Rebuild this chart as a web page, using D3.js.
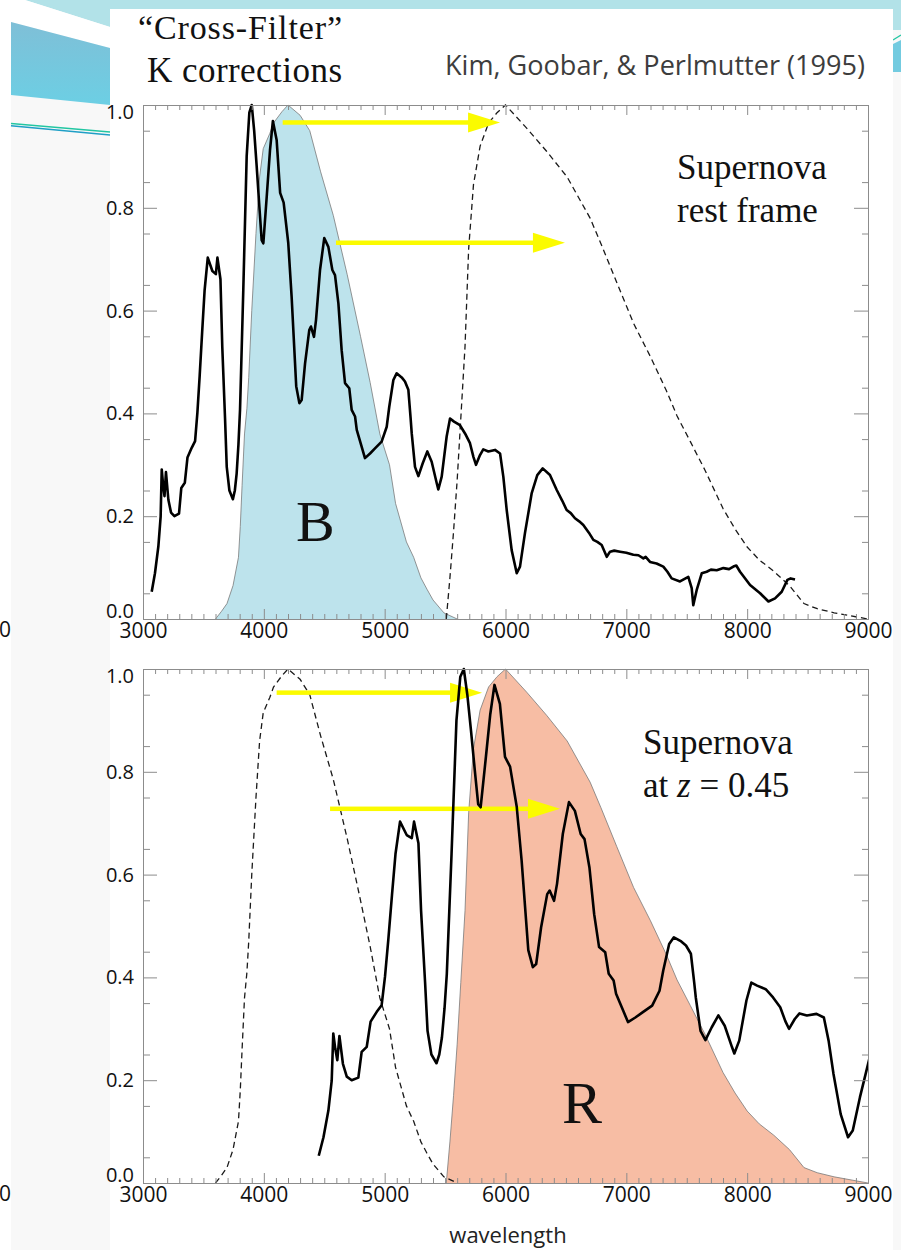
<!DOCTYPE html>
<html>
<head>
<meta charset="utf-8">
<script src="https://cdn.jsdelivr.net/npm/d3@7"></script>
<style>
  html, body { margin: 0; padding: 0; background: #fff; }
  svg { display: block; }
</style>
</head>
<body>
<svg id="chart" width="901" height="1250"></svg>
<script>
// Type Ia supernova spectrum near maximum light, rest frame: wavelength (Å) and normalised flux
const spectrumWave = [3072, 3099, 3127, 3146, 3155, 3166, 3178, 3190, 3210, 3232, 3260, 3298, 3317, 3346, 3368, 3403, 3431, 3450, 3469, 3490, 3510, 3536, 3574, 3603, 3616, 3641, 3656, 3679, 3693, 3715, 3744, 3760, 3775, 3790, 3803, 3830, 3858, 3880, 3900, 3920, 3941, 3963, 3982, 3996, 4024, 4051, 4075, 4106, 4135, 4164, 4202, 4230, 4268, 4294, 4313, 4341, 4376, 4390, 4415, 4432, 4465, 4500, 4534, 4567, 4589, 4617, 4644, 4672, 4707, 4727, 4755, 4769, 4810, 4837, 4879, 4920, 4975, 5017, 5038, 5072, 5099, 5141, 5168, 5196, 5215, 5224, 5251, 5279, 5315, 5353, 5389, 5431, 5444, 5472, 5513, 5541, 5574, 5623, 5665, 5706, 5735, 5756, 5789, 5816, 5858, 5913, 5955, 5982, 6010, 6051, 6093, 6120, 6161, 6217, 6263, 6308, 6368, 6424, 6470, 6506, 6540, 6575, 6610, 6644, 6690, 6727, 6760, 6796, 6838, 6865, 6900, 6948, 7000, 7058, 7100, 7141, 7160, 7196, 7250, 7306, 7340, 7375, 7444, 7513, 7541, 7554, 7582, 7624, 7665, 7700, 7748, 7803, 7850, 7886, 7910, 7941, 8024, 8107, 8176, 8231, 8286, 8333, 8360, 8396];
const spectrumFlux = [0.053, 0.089, 0.141, 0.199, 0.291, 0.262, 0.239, 0.286, 0.232, 0.207, 0.200, 0.205, 0.255, 0.265, 0.314, 0.333, 0.346, 0.401, 0.473, 0.560, 0.640, 0.703, 0.677, 0.671, 0.703, 0.661, 0.530, 0.390, 0.296, 0.250, 0.233, 0.250, 0.283, 0.340, 0.407, 0.640, 0.900, 0.985, 1.000, 0.950, 0.880, 0.802, 0.737, 0.731, 0.822, 0.912, 0.969, 0.932, 0.829, 0.810, 0.732, 0.627, 0.453, 0.420, 0.426, 0.497, 0.562, 0.569, 0.549, 0.582, 0.679, 0.741, 0.724, 0.679, 0.669, 0.614, 0.523, 0.459, 0.449, 0.407, 0.394, 0.368, 0.335, 0.313, 0.322, 0.332, 0.345, 0.374, 0.413, 0.465, 0.478, 0.470, 0.462, 0.446, 0.390, 0.361, 0.296, 0.278, 0.303, 0.326, 0.306, 0.264, 0.252, 0.277, 0.355, 0.390, 0.384, 0.377, 0.361, 0.342, 0.315, 0.300, 0.319, 0.330, 0.326, 0.329, 0.322, 0.277, 0.212, 0.134, 0.089, 0.102, 0.167, 0.245, 0.280, 0.293, 0.280, 0.251, 0.230, 0.212, 0.206, 0.196, 0.190, 0.183, 0.168, 0.154, 0.150, 0.144, 0.121, 0.131, 0.133, 0.131, 0.129, 0.125, 0.124, 0.118, 0.121, 0.111, 0.108, 0.102, 0.092, 0.079, 0.073, 0.082, 0.060, 0.027, 0.056, 0.089, 0.092, 0.096, 0.095, 0.099, 0.097, 0.102, 0.104, 0.092, 0.066, 0.050, 0.034, 0.040, 0.053, 0.076, 0.079, 0.077];

// B filter transmission (normalised)
const bFilterWave = [3600, 3650, 3695, 3745, 3790, 3805, 3820, 3840, 3860, 3875, 3900, 3935, 3965, 3995, 4050, 4080, 4150, 4200, 4300, 4380, 4470, 4575, 4690, 4800, 4880, 4960, 5040, 5090, 5180, 5240, 5300, 5350, 5400, 5490, 5600];
const bFilterResp = [0.000, 0.015, 0.030, 0.065, 0.120, 0.180, 0.260, 0.360, 0.410, 0.470, 0.600, 0.750, 0.860, 0.915, 0.945, 0.965, 0.987, 1.000, 0.980, 0.950, 0.870, 0.785, 0.670, 0.550, 0.460, 0.360, 0.300, 0.225, 0.150, 0.120, 0.080, 0.058, 0.037, 0.012, 0.000];

// R filter transmission (normalised)
const rFilterWave = [5510, 5540, 5570, 5600, 5630, 5665, 5695, 5735, 5790, 5860, 5930, 6000, 6175, 6340, 6510, 6700, 6790, 6920, 7060, 7200, 7330, 7420, 7530, 7650, 7800, 7900, 8000, 8100, 8220, 8350, 8470, 8580, 8720, 9000];
const rFilterResp = [0.000, 0.080, 0.170, 0.270, 0.390, 0.530, 0.720, 0.845, 0.920, 0.965, 0.985, 1.000, 0.955, 0.910, 0.860, 0.780, 0.730, 0.655, 0.575, 0.510, 0.445, 0.395, 0.345, 0.290, 0.215, 0.175, 0.140, 0.115, 0.093, 0.065, 0.030, 0.020, 0.012, 0.000];

const redshift = 0.45;

// Shift arrows: start / end wavelength and height
const restArrowFrom = [4156, 4597];
const restArrowTo = [5955, 6492];
const restArrowAt = [0.966, 0.732];
const shiftedArrowFrom = [4106, 4548];
const shiftedArrowTo = [5806, 6451];
const shiftedArrowAt = [0.954, 0.728];

const xTickValues = [3000, 4000, 5000, 6000, 7000, 8000, 9000];
const xTickLabels = ["3000", "4000", "5000", "6000", "7000", "8000", "9000"];
const yTickValues = [0, 0.2, 0.4, 0.6, 0.8, 1.0];
const yTickLabels = ["0.0", "0.2", "0.4", "0.6", "0.8", "1.0"];

const svg = d3.select("#chart");
const axisColor = "#8c8c8c";
const sansFont = "'Open Sans', 'Noto Sans', sans-serif";
const serifFont = "'Liberation Serif', 'DejaVu Serif', serif";

// ---------- slide background ----------
const deco = svg.append("g");
deco.append("rect").attr("x", 11).attr("y", 0).attr("width", 99).attr("height", 1250).attr("fill", "#f8f8f8");
deco.append("rect").attr("x", 893).attr("y", 0).attr("width", 8).attr("height", 1250).attr("fill", "#f8f8f8");
deco.append("path").attr("d", "M25,0 L901,0 L901,30 L893,30 L893,9 L110,9 L110,27 Z").attr("fill", "#b2e2e8");
deco.append("path").attr("d", "M11,0 L25,0 L110,27 L110,48 L11,22 Z").attr("fill", "#ffffff");
const grad = svg.append("defs").append("linearGradient").attr("id", "band").attr("x1", 0).attr("y1", 0).attr("x2", 0).attr("y2", 1);
grad.append("stop").attr("offset", "0%").attr("stop-color", "#7fbfd7");
grad.append("stop").attr("offset", "100%").attr("stop-color", "#6ccfe4");
deco.append("path").attr("d", "M11,22 L110,48 L110,105 L11,95 Z").attr("fill", "url(#band)");
deco.append("line").attr("x1", 11).attr("y1", 123.5).attr("x2", 110).attr("y2", 132).attr("stroke", "#22c6a2").attr("stroke-width", 1.6);
deco.append("line").attr("x1", 11).attr("y1", 125.8).attr("x2", 110).attr("y2", 135).attr("stroke", "#1f9fc6").attr("stroke-width", 1.6);
deco.append("path").attr("d", "M893,44 L901,40 L901,72 L893,72 Z").attr("fill", "#73cbe0");
deco.append("line").attr("x1", 893).attr("y1", 40).attr("x2", 901).attr("y2", 35).attr("stroke", "#22c6a2").attr("stroke-width", 1.4);
deco.append("rect").attr("x", 110).attr("y", 9).attr("width", 783).attr("height", 1241).attr("fill", "#ffffff");

// ---------- titles ----------
svg.append("text").attr("x", 138).attr("y", 39).attr("font-family", serifFont).attr("font-size", 34)
  .attr("textLength", 204).attr("fill", "#111").text("\u201CCross-Filter\u201D");
svg.append("text").attr("x", 147).attr("y", 82).attr("font-family", serifFont).attr("font-size", 35)
  .attr("textLength", 195).attr("fill", "#111").text("K corrections");
svg.append("text").attr("x", 445).attr("y", 75).attr("font-family", sansFont).attr("font-size", 27)
  .attr("textLength", 420).attr("lengthAdjust", "spacingAndGlyphs").attr("fill", "#3d3d3d")
  .text("Kim, Goobar, & Perlmutter (1995)");

// ---------- one panel ----------
function zip(a, b) { return a.map((v, i) => [v, b[i]]); }

function styleAxis(ag) {
  ag.selectAll("path.domain").attr("stroke", axisColor).attr("stroke-width", 1);
  ag.selectAll(".tick line").attr("stroke", axisColor).attr("stroke-width", 1);
}

function drawPanel(cfg) {
  const x = d3.scaleLinear().domain([3000, 9000]).range([143, 868]);
  const y = d3.scaleLinear().domain([0, 1]).range([cfg.y0, cfg.y1]);
  const g = svg.append("g");

  const clipId = "clip" + cfg.id;
  g.append("clipPath").attr("id", clipId).append("rect")
    .attr("x", x(3000)).attr("y", y(1) - 2).attr("width", x(9000) - x(3000)).attr("height", y(0) - y(1) + 2);
  const plot = g.append("g").attr("clip-path", `url(#${clipId})`);

  const area = d3.area().x(d => x(d[0])).y0(y(0)).y1(d => y(d[1]));
  const line = d3.line().x(d => x(d[0])).y(d => y(d[1]));

  // filled filter band
  plot.append("path").datum(cfg.filled).attr("d", area).attr("fill", cfg.fillColor);
  plot.append("path").datum(cfg.filled).attr("d", line).attr("fill", "none")
    .attr("stroke", "#7a7a7a").attr("stroke-width", 0.8);

  // dashed filter curve
  plot.append("path").datum(cfg.dashed).attr("d", line).attr("fill", "none")
    .attr("stroke", "#1a1a1a").attr("stroke-width", 1.3).attr("stroke-dasharray", "6,4");

  // yellow shift arrows
  const headLen = 32, headHalf = 10, shaft = 4.5;
  cfg.arrows.forEach(a => {
    const xs = x(a[0]), xe = x(a[1]), yy = y(a[2]);
    plot.append("rect").attr("x", xs).attr("y", yy - shaft / 2).attr("width", xe - headLen - xs + 1).attr("height", shaft).attr("fill", "#fbfb00");
    plot.append("path").attr("d", `M${xe - headLen},${yy - headHalf} L${xe},${yy} L${xe - headLen},${yy + headHalf} Z`).attr("fill", "#fbfb00");
  });

  // spectrum
  plot.append("path").datum(cfg.spectrum).attr("d", line).attr("fill", "none")
    .attr("stroke", "#000").attr("stroke-width", 2.6).attr("stroke-linejoin", "round");

  // axes: minor and major ticks live in separate groups
  const minorX = d3.range(3000, 9001, 100).filter(v => v % 1000 !== 0);
  const minorY = d3.range(0.05, 1.0, 0.1);
  const none = () => "";

  const leftMinor = g.append("g").attr("transform", `translate(${x(3000)},0)`)
    .call(d3.axisLeft(y).tickValues(minorY).tickSize(-7).tickSizeOuter(0).tickFormat(none));
  const leftMajor = g.append("g").attr("transform", `translate(${x(3000)},0)`)
    .call(d3.axisLeft(y).tickValues(yTickValues).tickSize(-14).tickSizeOuter(0).tickPadding(9)
      .tickFormat((d, i) => yTickLabels[i]));
  leftMajor.selectAll(".tick text").attr("y", d => d === 1 ? 7 : d === 0 ? -8 : 0)
    .attr("font-size", 20).attr("font-family", sansFont).attr("fill", "#111");

  const rightMinor = g.append("g").attr("transform", `translate(${x(9000)},0)`)
    .call(d3.axisRight(y).tickValues(minorY).tickSize(-6).tickSizeOuter(0).tickFormat(none));
  const rightMajor = g.append("g").attr("transform", `translate(${x(9000)},0)`)
    .call(d3.axisRight(y).tickValues(yTickValues).tickSize(-14).tickSizeOuter(0).tickFormat(none));

  const topMinor = g.append("g").attr("transform", `translate(0,${y(1)})`)
    .call(d3.axisTop(x).tickValues(minorX).tickSize(-5).tickSizeOuter(0).tickFormat(none));
  const topMajor = g.append("g").attr("transform", `translate(0,${y(1)})`)
    .call(d3.axisTop(x).tickValues(xTickValues).tickSize(-10).tickSizeOuter(0).tickFormat(none));

  const bottomMinor = g.append("g").attr("transform", `translate(0,${y(0)})`)
    .call(d3.axisBottom(x).tickValues(minorX).tickSize(-5).tickSizeOuter(0).tickFormat(none));
  const bottomMajor = g.append("g").attr("transform", `translate(0,${y(0)})`)
    .call(d3.axisBottom(x).tickValues(xTickValues).tickSize(-10).tickSizeOuter(0).tickPadding(4)
      .tickFormat((d, i) => xTickLabels[i]));
  bottomMajor.selectAll(".tick text").attr("font-size", 21).attr("font-family", sansFont).attr("fill", "#111");

  [leftMinor, leftMajor, rightMinor, rightMajor, topMinor, topMajor, bottomMinor, bottomMajor].forEach(styleAxis);

  // stray label at the left slide edge
  svg.append("text").attr("x", 11).attr("y", y(0) + 18).attr("text-anchor", "end")
    .attr("font-family", sansFont).attr("font-size", 21).attr("fill", "#111").text("0");

  return { x, y, g };
}

const restSpectrum = zip(spectrumWave, spectrumFlux);
const shiftedSpectrum = spectrumWave.map((w, i) => [w * (1 + redshift), spectrumFlux[i]]);
const bFilter = zip(bFilterWave, bFilterResp);
const rFilter = zip(rFilterWave, rFilterResp);

drawPanel({
  id: "rest", y0: 619, y1: 105,
  filled: bFilter, fillColor: "#bde3ec", dashed: rFilter, spectrum: restSpectrum,
  arrows: restArrowFrom.map((f, i) => [f, restArrowTo[i], restArrowAt[i]])
});
drawPanel({
  id: "shifted", y0: 1183, y1: 669,
  filled: rFilter, fillColor: "#f7bda4", dashed: bFilter, spectrum: shiftedSpectrum,
  arrows: shiftedArrowFrom.map((f, i) => [f, shiftedArrowTo[i], shiftedArrowAt[i]])
});

// ---------- panel annotations ----------
function serif(x, y, size, txt) {
  return svg.append("text").attr("x", x).attr("y", y).attr("font-family", serifFont)
    .attr("font-size", size).attr("fill", "#111").text(txt);
}
serif(677, 179, 35, "Supernova");
serif(677, 222, 35, "rest frame");
serif(643, 754, 35, "Supernova");
const zText = svg.append("text").attr("x", 643).attr("y", 797).attr("font-family", serifFont)
  .attr("font-size", 35).attr("fill", "#111");
zText.append("tspan").text("at ");
zText.append("tspan").attr("font-style", "italic").text("z");
zText.append("tspan").text(" = 0.45");
serif(296, 541, 58, "B");
serif(562, 1123, 60, "R");

svg.append("text").attr("x", 508).attr("y", 1243).attr("text-anchor", "middle")
  .attr("font-family", sansFont).attr("font-size", 22).attr("fill", "#222").text("wavelength");
</script>
</body>
</html>
